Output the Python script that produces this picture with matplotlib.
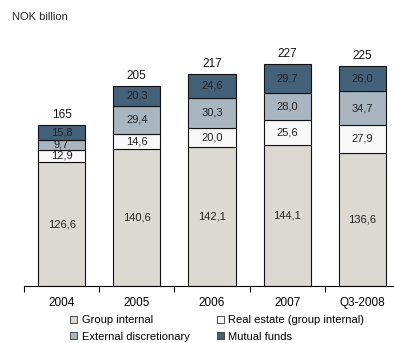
import numpy as np
import matplotlib
matplotlib.use("Agg")
import matplotlib.pyplot as plt
from matplotlib.patches import Patch

categories = ["2004", "2005", "2006", "2007", "Q3-2008"]
group_internal = [126.6, 140.6, 142.1, 144.1, 136.6]
real_estate = [12.9, 14.6, 20.0, 25.6, 27.9]
external_disc = [9.7, 29.4, 30.3, 28.0, 34.7]
mutual_funds = [15.8, 20.3, 24.6, 29.7, 26.0]
totals = [165, 205, 217, 227, 225]

series_names = ["Group internal", "Real estate (group internal)",
                "External discretionary", "Mutual funds"]
colors = ["#dcd9d2", "#f8f8f8", "#a9b6c0", "#44617a"]

plt.rcParams['font.family'] = ['Liberation Sans', 'DejaVu Sans']

fig = plt.figure(figsize=(3.94, 3.43), dpi=100)
ax = fig.add_axes([24/394, 57/343, 376/394, 256/343])

x = np.arange(len(categories))
bottom = np.zeros(len(categories))
for vals, c in zip([group_internal, real_estate, external_disc, mutual_funds], colors):
    vals = np.array(vals)
    ax.bar(x, vals, 0.63, bottom=bottom, color=c, edgecolor="#111111", linewidth=0.8)
    for xi, b, v in zip(x, bottom, vals):
        ax.text(xi, b + v / 2, f"{v:.1f}".replace(".", ","), ha="center", va="center",
                fontsize=8, color="#222222")
    bottom += vals

for xi, t in zip(x, totals):
    ax.text(xi, t + 4, str(t), ha="center", va="bottom", fontsize=8.5, color="#111111")

ax.set_xlim(-0.5, len(categories) - 0.5)
ax.set_ylim(0, 262)
ax.set_yticks([])
for s in ["left", "right", "top"]:
    ax.spines[s].set_visible(False)
ax.spines["bottom"].set_linewidth(0.8)
ax.set_xticks(np.arange(-0.5, len(categories), 1.0), minor=False)
ax.set_xticklabels([])
ax.tick_params(axis="x", which="major", length=4, width=0.8, direction="out")
ax.set_xticks(x, minor=True)
ax.set_xticklabels(categories, minor=True, fontsize=8.5)
ax.tick_params(axis="x", which="minor", length=0, pad=8)

fig.text(12/394, 1 - 17/343, "NOK billion", fontsize=8, va="center", color="#222222")

# matplotlib fills legend column-wise
order = [0, 2, 1, 3]
handles = [Patch(facecolor=colors[i], edgecolor="#333333", linewidth=0.6) for i in order]
labels = [series_names[i] for i in order]
fig.legend(handles, labels, loc="upper left", bbox_to_anchor=(66/394, 1 - 311/343),
           ncol=2, frameon=False, fontsize=8, handlelength=0.6, handleheight=0.6,
           handletextpad=0.4, columnspacing=2.5, labelspacing=0.55, borderaxespad=0)

fig.savefig("out.png", dpi=100)
